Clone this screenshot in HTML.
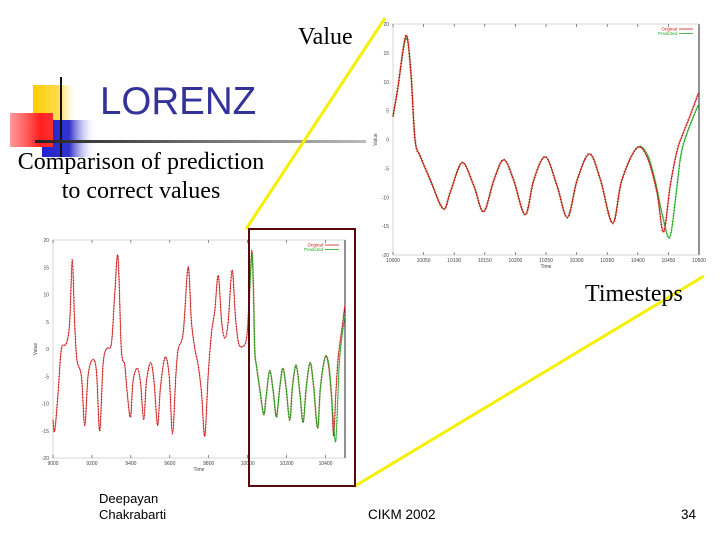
<!DOCTYPE html>
<html><head><meta charset="utf-8">
<style>
body{margin:0;background:#fff}
#slide{position:relative;width:720px;height:540px;overflow:hidden;background:#fff;font-family:"Liberation Serif",serif}
.t{position:absolute;white-space:nowrap}
</style></head>
<body>
<div id="slide">
<svg id="svg" width="720" height="540" style="position:absolute;left:0;top:0">
<defs>
<linearGradient id="gy" x1="0" x2="1"><stop offset="0" stop-color="#ffcc00"/><stop offset="0.6" stop-color="#ffdd55"/><stop offset="1" stop-color="#fff" stop-opacity="0"/></linearGradient>
<linearGradient id="gr" x1="0" x2="1"><stop offset="0" stop-color="#ff8080" stop-opacity="0.8"/><stop offset="0.7" stop-color="#ff2020"/><stop offset="1" stop-color="#ff3030"/></linearGradient>
<linearGradient id="gb" x1="0" x2="1"><stop offset="0" stop-color="#2222cc"/><stop offset="0.5" stop-color="#3333cc"/><stop offset="1" stop-color="#fff" stop-opacity="0"/></linearGradient>
<linearGradient id="gl" x1="0" x2="1"><stop offset="0" stop-color="#222"/><stop offset="1" stop-color="#bbb"/></linearGradient>
</defs>
<g>
<rect x="33" y="85" width="45" height="35" fill="url(#gy)"/>
<rect x="42" y="120" width="55" height="37" fill="url(#gb)"/>
<rect x="10" y="113" width="43" height="34" fill="url(#gr)"/>
<rect x="60" y="77" width="2" height="80" fill="#111"/>
</g>
<rect x="35" y="140" width="331" height="3" fill="url(#gl)"/>
<line x1="385" y1="18" x2="246" y2="229" stroke="#f5f000" stroke-width="3"/>
<line x1="355" y1="486" x2="704" y2="276" stroke="#f5f000" stroke-width="3"/>
<g id="small"></g>
<g id="big"></g>
<rect x="249" y="229" width="106" height="257" fill="none" stroke="#5a0a0a" stroke-width="2"/>
</svg>
<div class="t" style="left:298px;top:24px;font-size:24px">Value</div>
<div class="t" style="left:100px;top:80px;font-family:'Liberation Sans',sans-serif;font-size:38.5px;color:#333399">LORENZ</div>
<div class="t" style="left:0;width:282px;top:148px;font-size:24px;text-align:center;line-height:29px">Comparison of prediction<br>to correct values</div>
<div class="t" style="left:585px;top:281px;font-size:24px">Timesteps</div>
<div class="t" style="left:99px;top:491px;font-family:'Liberation Sans',sans-serif;font-size:13px;line-height:16px">Deepayan<br>Chakrabarti</div>
<div class="t" style="left:368px;top:507px;font-family:'Liberation Sans',sans-serif;font-size:13.5px">CIKM 2002</div>
<div class="t" style="left:681px;top:507px;font-family:'Liberation Sans',sans-serif;font-size:13.5px">34</div>
</div>
<script>
// zoomed window data (10000-10500)
const zoomTimes=[10000,10008,10021,10029,10036,10045,10061,10082,10094,10113,10132,10148,10165,10181,10197,10216,10230,10249,10268,10285,10301,10321,10339,10359,10374,10398,10415,10431,10442,10453,10464,10472,10485,10499];
const zoomOriginal=[4,9,18,12,0,-3,-7,-12,-9,-4,-8,-12.5,-7,-3.5,-7,-13,-7,-3,-8,-13.5,-7,-2.5,-7,-14.5,-7,-1.5,-3,-9,-16,-8,-2,0.5,4,8];
const zoomPredTimes=[10000,10008,10021,10029,10036,10045,10061,10082,10094,10113,10132,10148,10165,10181,10197,10216,10230,10249,10268,10285,10301,10321,10339,10359,10374,10398,10415,10428,10440,10452,10462,10470,10480,10499];
const zoomPredicted=[4,9,17.5,12,0,-3,-7,-12,-9,-4,-8,-12.5,-7,-3.5,-7,-13,-7,-3,-8,-13.5,-7,-2.5,-7,-14.5,-7,-1.5,-2.5,-7,-13,-17,-10,-3,1,6];
// earlier history (9000-10000), original only
const histTimes=[9000,9009,9026,9043,9069,9086,9099,9111,9123,9146,9163,9180,9202,9223,9240,9257,9274,9300,9317,9334,9351,9369,9381,9398,9411,9432,9449,9466,9480,9502,9519,9537,9552,9576,9597,9614,9631,9643,9669,9694,9711,9729,9746,9763,9780,9797,9814,9831,9849,9866,9883,9900,9920,9937,9954,9977,9992];
const histValues=[-13,-15,-8,0,1,5,16.5,5,-2,-5,-14,-5,-2,-4,-15,-3,0,1,10,17,0,-3,-8,-12.5,-6,-3.5,-6,-13,-6,-2.5,-6,-14,-7,-1.5,-5,-15.5,-5,0,3,15,5,0,-3,-8,-16,-5,3,7,13.5,5,2,5,14.5,6,1,0.5,1.5];
const yTicks=[-20,-15,-10,-5,0,5,10,15,20];
const bigXTicks=[10000,10050,10100,10150,10200,10250,10300,10350,10400,10450,10500];
const smallXTicks=[9000,9200,9400,9600,9800,10000,10200,10400];
const NS='http://www.w3.org/2000/svg';
function mk(tag,attrs,parent){const e=document.createElementNS(NS,tag);for(const k in attrs)e.setAttribute(k,attrs[k]);parent.appendChild(e);return e;}
function smooth(pts){let d='M'+pts[0][0].toFixed(1)+','+pts[0][1].toFixed(1);
 for(let i=0;i<pts.length-1;i++){const p0=pts[Math.max(0,i-1)],p1=pts[i],p2=pts[i+1],p3=pts[Math.min(pts.length-1,i+2)];
 const c1=[p1[0]+(p2[0]-p0[0])/6,p1[1]+(p2[1]-p0[1])/6],c2=[p2[0]-(p3[0]-p1[0])/6,p2[1]-(p3[1]-p1[1])/6];
 d+='C'+c1[0].toFixed(1)+','+c1[1].toFixed(1)+' '+c2[0].toFixed(1)+','+c2[1].toFixed(1)+' '+p2[0].toFixed(1)+','+p2[1].toFixed(1);}return d;}
function chart(g,o){
 const sx=t=>o.x0+(t-o.t0)/(o.t1-o.t0)*(o.x1-o.x0);
 const sy=v=>o.y1-(v+20)/40*(o.y1-o.y0);
 const fr=mk('rect',{x:o.x0,y:o.y0,width:o.x1-o.x0,height:o.y1-o.y0,fill:'none',stroke:'#ccc','stroke-width':0.8},g);
 
 mk('line',{x1:o.x1,y1:o.y0,x2:o.x1,y2:o.y1,stroke:'#222','stroke-width':1},g);
 yTicks.forEach(v=>{const tx=mk('text',{x:o.x0-4,y:sy(v)+2,'font-size':5,'text-anchor':'end',fill:'#444','font-family':'Liberation Sans'},g);tx.textContent=v;
  });
 o.xt.forEach(v=>{const tx=mk('text',{x:sx(v),y:o.y1+7,'font-size':5,'text-anchor':'middle',fill:'#444','font-family':'Liberation Sans'},g);tx.textContent=v;
  
  mk('line',{x1:sx(v),y1:o.y1,x2:sx(v),y2:o.y1-3,stroke:'#444','stroke-width':0.6},g);mk('line',{x1:sx(v),y1:o.y0,x2:sx(v),y2:o.y0+3,stroke:'#444','stroke-width':0.6},g);});
 const xl=mk('text',{x:(o.x0+o.x1)/2,y:o.y1+13,'font-size':5,'text-anchor':'middle',fill:'#444','font-family':'Liberation Sans'},g);xl.textContent='Time';
 
 const yl=mk('text',{x:o.x0-16,y:(o.y0+o.y1)/2,'font-size':5,'text-anchor':'middle',fill:'#444','font-family':'Liberation Sans',transform:`rotate(-90 ${o.x0-16} ${(o.y0+o.y1)/2})`},g);yl.textContent='Value';
 
 o.series.forEach(s=>{const pts=s.t.map((t,i)=>[sx(t),sy(s.v[i])]);
  const p=mk('path',{d:smooth(pts),fill:'none',stroke:s.c,'stroke-width':o.w},g);
  
  const p2=mk('path',{d:smooth(pts),fill:'none',stroke:s.c,'stroke-width':o.w*2.2,'stroke-dasharray':'0.6 2.2'},g);
  });
 [['Original','#cc2020'],['Predicted','#22aa22']].forEach((l,i)=>{const y=o.y0+5+i*4.5;
  const tx=mk('text',{x:o.x1-22,y:y+1.5,'font-size':4.5,'text-anchor':'end',fill:l[1],'font-family':'Liberation Sans'},g);tx.textContent=l[0];
  
  mk('line',{x1:o.x1-20,y1:y,x2:o.x1-6,y2:y,stroke:l[1],'stroke-width':0.8},g);});
}
chart(document.getElementById('big'),{x0:393,x1:699,y0:24,y1:255,t0:10000,t1:10500,xt:bigXTicks,w:1,
 series:[{t:zoomPredTimes,v:zoomPredicted,c:'#22aa22',name:'predicted-series'},{t:zoomTimes,v:zoomOriginal,c:'#cc2020',name:'original-series'}]});
chart(document.getElementById('small'),{x0:53,x1:345,y0:240,y1:458,t0:9000,t1:10500,xt:smallXTicks,w:0.8,
 series:[{t:histTimes.concat(zoomTimes),v:histValues.concat(zoomOriginal),c:'#cc2020',name:'original-series'},{t:zoomPredTimes,v:zoomPredicted,c:'#22aa22',name:'predicted-series'}]});
</script>
</body></html>
